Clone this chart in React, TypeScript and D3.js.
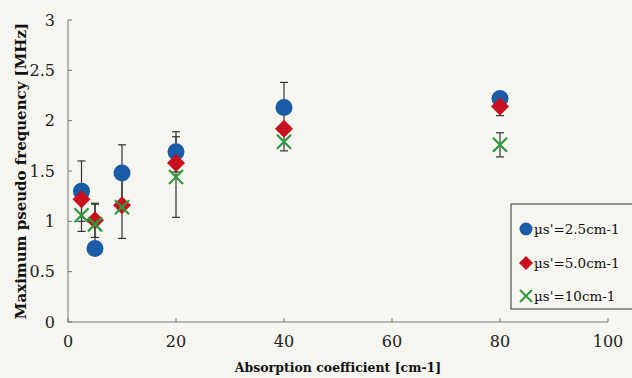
import React, { useEffect, useRef } from "react";
import * as d3 from "d3";

const absorption = [2.5, 5, 10, 20, 40, 80];
const mu25 = [1.3, 0.73, 1.48, 1.69, 2.13, 2.22];
const mu25Err = [0.3, 0, 0.28, 0.2, 0.25, 0];
const mu50 = [1.22, 1.01, 1.16, 1.58, 1.92, 2.14];
const mu50Err = [0, 0.17, 0, 0, 0, 0.09];
const mu10 = [1.06, 0.97, 1.14, 1.44, 1.79, 1.76];
const mu10Err = [0.16, 0.2, 0.31, 0.4, 0.09, 0.12];
const xTicks = [0, 20, 40, 60, 80, 100];
const yTicks = [0, 0.5, 1, 1.5, 2, 2.5, 3];
const seriesNames = ["\u00b5s'=2.5cm-1", "\u00b5s'=5.0cm-1", "\u00b5s'=10cm-1"];

const W = 632;
const H = 378;

export default function App() {
  const ref: any = useRef();

  useEffect(() => {
    const svg = d3.select(ref.current);
    svg.selectAll("*").remove();

    const font = "'DejaVu Serif', serif";
    const x = d3.scaleLinear().domain([0, 100]).range([68, 608]);
    const y = d3.scaleLinear().domain([0, 3]).range([322, 20]);

    svg.append("rect").attr("width", W).attr("height", H).attr("fill", "#f6f5f0");

    // axes
    const axisColor = "#777";
    svg.append("line").attr("x1", x(0)).attr("x2", x(0)).attr("y1", y(3)).attr("y2", y(0))
      .attr("stroke", axisColor).attr("stroke-width", 1);
    svg.append("line").attr("x1", x(0)).attr("x2", x(100)).attr("y1", y(0)).attr("y2", y(0))
      .attr("stroke", axisColor).attr("stroke-width", 1);

    yTicks.forEach((t) => {
      svg.append("line").attr("x1", x(0)).attr("x2", x(0) + 4).attr("y1", y(t)).attr("y2", y(t))
        .attr("stroke", axisColor);
      svg.append("text").attr("x", 55).attr("y", y(t)).attr("dy", "0.35em")
        .attr("text-anchor", "end").style("font-family", font).style("font-size", "16px")
        .attr("fill", "#222").text(String(t));
    });
    xTicks.forEach((t) => {
      svg.append("line").attr("x1", x(t)).attr("x2", x(t)).attr("y1", y(0)).attr("y2", y(0) - 4)
        .attr("stroke", axisColor);
      svg.append("text").attr("x", x(t)).attr("y", 347)
        .attr("text-anchor", "middle").style("font-family", font).style("font-size", "16px")
        .attr("fill", "#222").text(String(t));
    });

    svg.append("text").attr("x", 338).attr("y", 372).attr("text-anchor", "middle")
      .style("font-family", font).style("font-size", "12.5px").style("font-weight", "bold")
      .attr("fill", "#111").text("Absorption coefficient [cm-1]");
    svg.append("text").attr("transform", `translate(21,${y(1.5)}) rotate(-90)`)
      .attr("text-anchor", "middle").attr("dy", "0.35em")
      .style("font-family", font).style("font-size", "15px").style("font-weight", "bold")
      .attr("fill", "#111").text("Maximum pseudo frequency [MHz]");

    // error bars
    const errBars = (vals: number[], errs: number[]) => {
      absorption.forEach((a, i) => {
        if (!errs[i]) return;
        const cx = x(a);
        const top = y(vals[i] + errs[i]);
        const bot = y(vals[i] - errs[i]);
        const g = svg.append("g").attr("stroke", "#333").attr("stroke-width", 1.2);
        g.append("line").attr("x1", cx).attr("x2", cx).attr("y1", top).attr("y2", bot);
        g.append("line").attr("x1", cx - 4).attr("x2", cx + 4).attr("y1", top).attr("y2", top);
        g.append("line").attr("x1", cx - 4).attr("x2", cx + 4).attr("y1", bot).attr("y2", bot);
      });
    };
    errBars(mu25, mu25Err);
    errBars(mu50, mu50Err);
    errBars(mu10, mu10Err);

    const blue = "#1a5ca6";
    const red = "#c8101e";
    const green = "#2a9a3c";

    const drawCircle = (g: any, cx: number, cy: number, r: number) =>
      g.append("circle").attr("cx", cx).attr("cy", cy).attr("r", r).attr("fill", blue);
    const drawDiamond = (g: any, cx: number, cy: number, r: number) =>
      g.append("path").attr("d", `M${cx},${cy - r}L${cx + r},${cy}L${cx},${cy + r}L${cx - r},${cy}Z`)
        .attr("fill", red);
    const drawCross = (g: any, cx: number, cy: number, r: number, sw: number) =>
      g.append("path").attr("d", `M${cx - r},${cy - r}L${cx + r},${cy + r}M${cx - r},${cy + r}L${cx + r},${cy - r}`)
        .attr("stroke", green).attr("stroke-width", sw).attr("fill", "none");

    absorption.forEach((a, i) => drawCircle(svg, x(a), y(mu25[i]), 8.5));
    absorption.forEach((a, i) => drawDiamond(svg, x(a), y(mu50[i]), 9));
    absorption.forEach((a, i) => drawCross(svg, x(a), y(mu10[i]), 7, 2.2));

    // legend
    svg.append("rect").attr("x", 511).attr("y", 204).attr("width", 125).attr("height", 105)
      .attr("fill", "#f6f5f0").attr("stroke", "#333").attr("stroke-width", 1);
    const ly = [229, 263, 296];
    drawCircle(svg, 526, ly[0], 6.5);
    drawDiamond(svg, 526, ly[1], 7);
    drawCross(svg, 526, ly[2], 6, 2);
    seriesNames.forEach((n, i) => {
      svg.append("text").attr("x", 534).attr("y", ly[i]).attr("dy", "0.35em")
        .style("font-family", font).style("font-size", "13.5px").attr("fill", "#111").text(n);
    });
  }, []);

  return (
    <svg ref={ref} width={W} height={H} style={{ position: "absolute", left: 0, top: 0 }} />
  );
}
